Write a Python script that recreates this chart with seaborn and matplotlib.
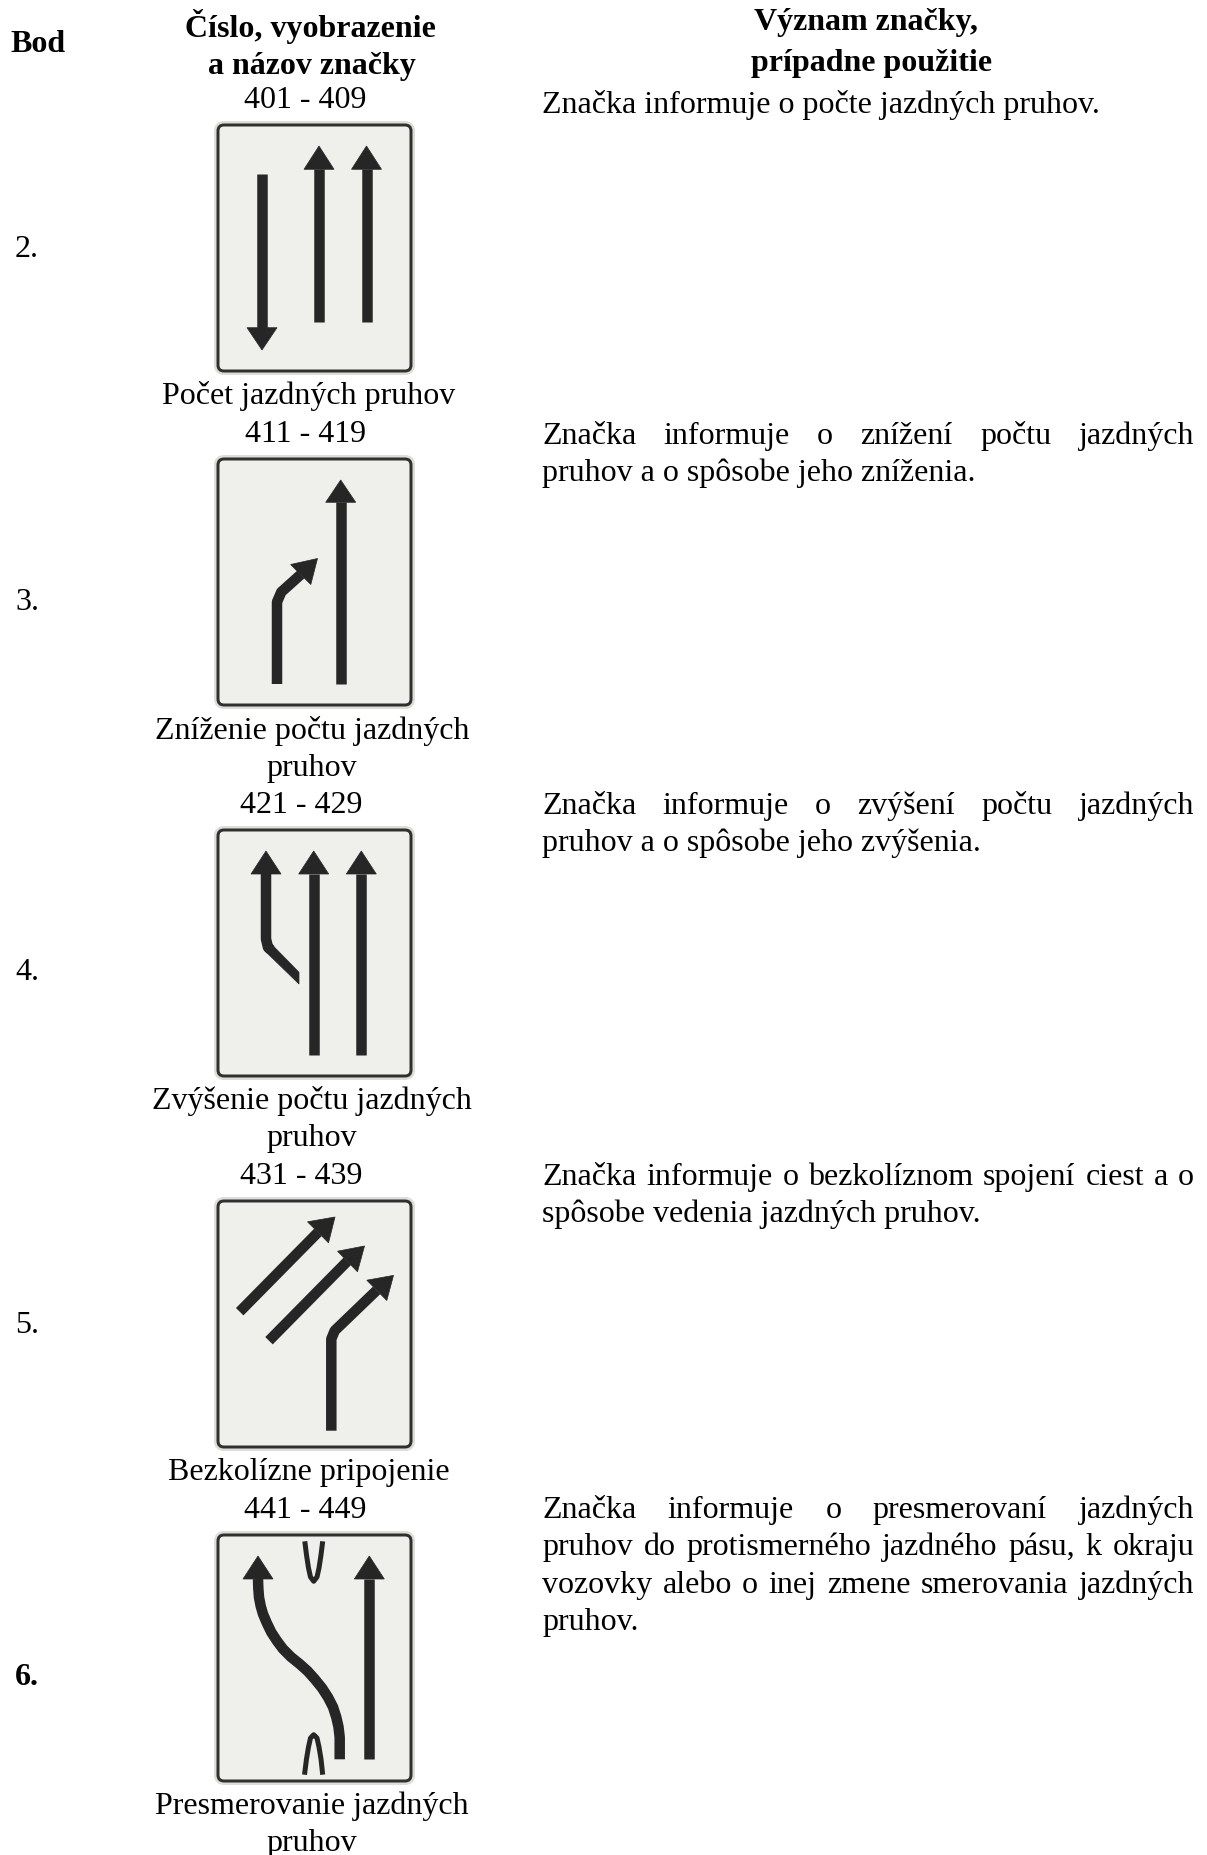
import matplotlib
matplotlib.use('Agg')
import matplotlib.pyplot as plt
from matplotlib.patches import FancyBboxPatch
import seaborn as sns

# header + row text, y values are baselines in pixels
header_bod = ('Bod', 38, 52)
header_col2 = [('Číslo, vyobrazenie', 310, 37), ('a názov značky', 312, 74)]
header_col3 = [('Význam značky,', 866, 30), ('prípadne použitie', 872, 71)]

row_points = ['2.', '3.', '4.', '5.', '6.']
row_point_y = [257, 610, 980, 1333, 1685]

col2_text = ['401 - 409', 'Počet jazdných pruhov', '411 - 419', 'Zníženie počtu jazdných', 'pruhov',
             '421 - 429', 'Zvýšenie počtu jazdných', 'pruhov', '431 - 439', 'Bezkolízne pripojenie',
             '441 - 449', 'Presmerovanie jazdných', 'pruhov']
col2_x = [305.5, 309, 305.5, 312, 312, 301, 312, 312, 301, 309, 305.5, 312, 312]
col2_y = [108, 404, 442, 739, 776, 813, 1109, 1146, 1184, 1480, 1518, 1814, 1851]

col3_text = ['Značka informuje o počte jazdných pruhov.',
             'Značka informuje o znížení počtu jazdných',
             'pruhov a o spôsobe jeho zníženia.',
             'Značka informuje o zvýšení počtu jazdných',
             'pruhov a o spôsobe jeho zvýšenia.',
             'Značka informuje o bezkolíznom spojení ciest a o',
             'spôsobe vedenia jazdných pruhov.',
             'Značka informuje o presmerovaní jazdných',
             'pruhov do protismerného jazdného pásu, k okraju',
             'vozovky alebo o inej zmene smerovania jazdných',
             'pruhov.']
col3_y = [113, 444, 481, 814, 851, 1185, 1222, 1518, 1555, 1593, 1630]
col3_justified = [False, True, False, True, False, True, False, True, True, True, False]

# sign panels
sign_left = 218
sign_tops = [126, 460, 831, 1202, 1536]
sign_w = 193
sign_h = 246

# each arrow: shaft path, then head (wing, tip, wing), relative to the panel corner
sign1 = [
    ([(44, 49.3), (44, 202.7)], [(29, 202.7), (44, 225), (59, 202.7)]),
    ([(101, 196.7), (101, 44.3)], [(86, 44.3), (101, 21), (116, 44.3)]),
    ([(148.5, 196.7), (148.5, 44.3)], [(133.5, 44.3), (148.5, 21), (163.5, 44.3)]),
]
sign2 = [
    ([(122.7, 225), (122.7, 43.3)], [(107.7, 43.3), (122.7, 21), (137.7, 43.3)]),
    ([(59, 225), (59, 143), (63.3, 133), (82.8, 115.5)], [(72.6, 105.5), (99.5, 99.5), (92.8, 125.5)]),
]
sign3 = [
    ([(48, 44), (48, 109), (50, 117.3), (53, 120)], [(33, 44), (48, 21), (63, 44)]),
    ([(95.7, 225), (95.7, 44)], [(80.7, 44), (95.7, 21), (110.7, 44)]),
    ([(143.3, 225), (143.3, 44)], [(128.3, 44), (143.3, 21), (158.3, 44)]),
]
sign3_tail = [(53.3, 114), (81, 142.3), (81, 154), (46.7, 120.7)]
sign4 = [
    ([(21.7, 110.7), (100, 31.3)], [(89.5, 20.8), (117, 16), (110.5, 41.8)]),
    ([(51, 139.7), (129.3, 60.3)], [(119.5, 50.2), (146.5, 45), (139.5, 70.8)]),
    ([(113.3, 229.7), (113.3, 138), (116.7, 129.7), (158.7, 89.3)], [(148.8, 79.2), (175.5, 74.4), (168.8, 99.5)]),
]
sign5 = [
    ([(151.3, 224.3), (151.3, 44)], [(136.3, 44), (151.3, 21), (166.3, 44)]),
    ([(40, 44), (40.3, 53), (41, 62.3), (42.7, 71), (45, 79), (48.8, 88), (53.3, 97.3), (59, 106), (65, 114),
      (73, 122), (81.7, 129), (89.5, 136), (96.7, 144), (104, 153), (110, 162.3), (115, 172), (118.3, 182.3),
      (120.5, 192), (121.7, 202.3), (121.7, 224.3)],
     [(25, 44), (40, 21), (55, 44)]),
]
sign5_top_mark = [(86.8, 6.3), (88.5, 20), (90.5, 33), (92.5, 42), (95.7, 46.3), (99, 42), (101, 33), (103, 20), (104.7, 6.3)]
sign5_bottom_mark = [(86.5, 239.7), (88.5, 224), (90.5, 212), (92.5, 203), (95.7, 199.7), (99, 203), (101, 212), (103, 224), (104.7, 239.7)]

signs = [sign1, sign2, sign3, sign4, sign5]

sns.set_theme(style='white')
plt.rcParams['font.family'] = ['Liberation Serif', 'DejaVu Serif']

INK = '#262626'
FONT = 23.04
PX = 72 / 100

fig = plt.figure(figsize=(12.07, 18.56), dpi=100, facecolor='white')
ax = fig.add_axes([0, 0, 1, 1])


def draw_path(points, x0, y0, width=10.5):
    sns.lineplot(x=[p[0] + x0 for p in points], y=[p[1] + y0 for p in points],
                 sort=False, estimator=None, color=INK, linewidth=width * PX,
                 solid_capstyle='butt', solid_joinstyle='round', ax=ax, legend=False)


def draw_fill(points, x0, y0):
    ax.fill([p[0] + x0 for p in points], [p[1] + y0 for p in points], color=INK, lw=0.5, zorder=3)


for top, arrows in zip(sign_tops, signs):
    ax.add_patch(FancyBboxPatch((sign_left + 5, top + 5), sign_w - 10, sign_h - 10,
                                boxstyle='round,pad=5,rounding_size=6', fc='#efefec', ec='#deded8', lw=8 * PX, zorder=1))
    ax.add_patch(FancyBboxPatch((sign_left + 5, top + 5), sign_w - 10, sign_h - 10,
                                boxstyle='round,pad=5,rounding_size=6', fc='#efefec', ec='#303030', lw=3 * PX, zorder=1))
    for shaft, head in arrows:
        draw_path(shaft, sign_left, top)
        draw_fill(head, sign_left, top)

draw_fill(sign3_tail, sign_left, sign_tops[2])
draw_path(sign5_top_mark, sign_left, sign_tops[4], width=5)
draw_path(sign5_bottom_mark, sign_left, sign_tops[4], width=5)

ax.set_xlim(0, 1207)
ax.set_ylim(1856, 0)
ax.axis('off')

# texts
ax.text(header_bod[1], header_bod[2], header_bod[0], fontsize=FONT, fontweight='bold', ha='center', va='baseline', color='black')
for t, x, y in header_col2 + header_col3:
    ax.text(x, y, t, fontsize=FONT, fontweight='bold', ha='center', va='baseline', color='black')
for t, y in zip(row_points, row_point_y):
    ax.text(15, y, t, fontsize=FONT, fontweight='bold' if t == '6.' else 'normal', ha='left', va='baseline', color='black')
for t, x, y in zip(col2_text, col2_x, col2_y):
    ax.text(x, y, t, fontsize=FONT, ha='center', va='baseline', color='black')

fig.canvas.draw()
renderer = fig.canvas.get_renderer()
left, right = 542, 1194
for t, y, just in zip(col3_text, col3_y, col3_justified):
    if not just:
        ax.text(left, y, t, fontsize=FONT, ha='left', va='baseline', color='black')
        continue
    words = t.split(' ')
    items = [ax.text(left, y, w, fontsize=FONT, ha='left', va='baseline', color='black') for w in words]
    widths = [it.get_window_extent(renderer).width for it in items]
    gap = (right - left - sum(widths)) / (len(words) - 1)
    x = left
    for it, w in zip(items, widths):
        it.set_x(x)
        x += w + gap

fig.savefig('out.png', dpi=100)
